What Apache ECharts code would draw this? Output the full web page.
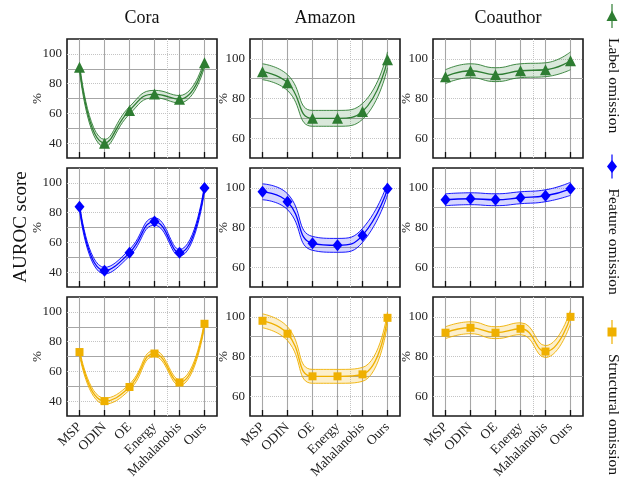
<!DOCTYPE html>
<html><head><meta charset="utf-8">
<script src="https://cdn.jsdelivr.net/npm/echarts@6/dist/echarts.min.js"></script>
<style>html,body{margin:0;padding:0;background:#fff}#c{width:626px;height:487px}</style>
</head><body><div id="c"></div>
<script>
// ---- data ----
const categories = ['MSP', 'ODIN', 'OE', 'Energy', 'Mahalanobis', 'Ours'];
const datasets = ['Cora', 'Amazon', 'Coauthor'];
const settings = ['Label omission', 'Feature omission', 'Structural omission'];

const coraLabel = [91, 40, 62, 73, 69.5, 94];
const coraFeature = [84, 41, 53, 74, 53, 96.5];
const coraStructural = [73, 40, 49.5, 72, 52.5, 92];
const amazonLabel = [93.5, 88, 70, 70, 73.5, 99.5];
const amazonFeature = [98, 93, 72, 71, 76, 99.5];
const amazonStructural = [98, 91.5, 70, 70, 71, 99.5];
const coauthorLabel = [91, 94, 92, 94, 94.5, 99];
const coauthorFeature = [94, 94.5, 94, 95, 96, 99.5];
const coauthorStructural = [92, 94.5, 92, 94, 82.5, 100];

const coraLabelStd = [2.5, 2.5, 2.5, 2.5, 2.5, 2.5];
const coraFeatureStd = [2.2, 2.2, 2.2, 2.5, 2.2, 2.2];
const coraStructuralStd = [2, 2, 2, 2, 2, 2];
const amazonLabelStd = [4, 4, 4, 4, 4, 4];
const amazonFeatureStd = [4, 4, 3.5, 3.5, 3.5, 3];
const amazonStructuralStd = [3.5, 3.5, 3.5, 3.5, 3.5, 3];
const coauthorLabelStd = [3.5, 3.5, 3.5, 3.5, 3.5, 4.5];
const coauthorFeatureStd = [3, 3, 3, 3, 3, 3.3];
const coauthorStructuralStd = [3, 3, 3, 3, 3, 3.5];

const coraTicks = [40, 60, 80, 100];
const otherTicks = [60, 80, 100];

// ---- layout / style ----
const FONT = '"Liberation Serif", "DejaVu Serif", serif';
const means = [
  [coraLabel, amazonLabel, coauthorLabel],
  [coraFeature, amazonFeature, coauthorFeature],
  [coraStructural, amazonStructural, coauthorStructural]
];
const stds = [
  [coraLabelStd, amazonLabelStd, coauthorLabelStd],
  [coraFeatureStd, amazonFeatureStd, coauthorFeatureStd],
  [coraStructuralStd, amazonStructuralStd, coauthorStructuralStd]
];
const colors = ['#2E7D32', '#0000FF', '#EFB000'];
const fills = ['rgba(46,125,50,0.18)', 'rgba(0,0,255,0.16)', 'rgba(239,176,0,0.2)'];
const symbols = ['triangle', 'diamond', 'rect'];
const symbolSizes = [11, [10, 12], 8];
const colLeft = [67, 250, 433];
const rowTop = [39, 168, 297];
const W = 150, H = 119;

const grids = [], xAxes = [], yAxes = [], series = [];
for (let r = 0; r < 3; r++) {
  for (let c = 0; c < 3; c++) {
    const p = r * 3 + c;
    const ticks = c === 0 ? coraTicks : otherTicks;
    const yMin = c === 0 ? 30 : 50, yMax = 110;
    grids.push({left: colLeft[c], top: rowTop[r], width: W, height: H, show: true,
      borderColor: '#1a1a1a', borderWidth: 1.6, outerBoundsMode: 'none'});
    xAxes.push({type: 'category', gridIndex: p, data: categories, boundaryGap: true,
      axisLine: {show: false},
      axisTick: {show: true, inside: true, alignWithLabel: true, length: 6, lineStyle: {color: '#111', width: 1.3}},
      splitLine: {show: true, alignWithLabel: true, lineStyle: {color: '#a6a6a6', width: 1.1}},
      axisLabel: {show: r === 2, rotate: 45, interval: 0, fontFamily: FONT, fontSize: 13.5, color: '#222', margin: 9}
    });
    xAxes.push({type: 'category', gridIndex: p, data: categories, boundaryGap: true, position: 'top',
      axisLine: {show: false}, axisTick: {show: false}, axisLabel: {show: false},
      splitLine: {show: true, showMinLine: false, showMaxLine: false,
        lineStyle: {color: '#c4c4c4', type: 'dotted', width: 1}}
    });
    yAxes.push({type: 'value', gridIndex: p, min: yMin, max: yMax, interval: 10,
      axisLine: {show: false}, axisTick: {show: false},
      splitLine: {show: true, showMinLine: false, showMaxLine: false,
        lineStyle: {type: 'dotted', color: '#c4c4c4', width: 1}},
      axisLabel: {formatter: v => (ticks.indexOf(v) >= 0 ? String(v) : ''), fontFamily: FONT, fontSize: 13, color: '#222', margin: 5},
      name: '%', nameLocation: 'middle', nameRotate: 90, nameGap: c === 0 ? 23 : 20,
      nameMoveOverlap: false,
      nameTextStyle: {fontFamily: FONT, fontSize: 13, color: '#222'}
    });
    yAxes.push({type: 'value', gridIndex: p, min: yMin, max: yMax, interval: 10,
      axisLine: {show: false}, axisTick: {show: false}, axisLabel: {show: false},
      splitLine: {show: true, showMinLine: false, showMaxLine: false,
        lineStyle: {color: ['rgba(0,0,0,0)', '#a6a6a6'], width: 1.1}}
    });
    const m = means[r][c], s = stds[r][c];
    const lower = m.map((v, i) => v - s[i]);
    const width = s.map(v => 2 * v);
    series.push({type: 'line', xAxisIndex: 2 * p, yAxisIndex: 2 * p, data: lower, stack: 'band' + p,
      smooth: true, symbol: 'none', lineStyle: {color: colors[r], width: 0.9}, z: 3, silent: true});
    series.push({type: 'line', xAxisIndex: 2 * p, yAxisIndex: 2 * p, data: width, stack: 'band' + p,
      smooth: true, symbol: 'none', lineStyle: {color: colors[r], width: 0.9},
      areaStyle: {color: fills[r], opacity: 1}, z: 3, silent: true});
    series.push({type: 'line', name: settings[r], xAxisIndex: 2 * p, yAxisIndex: 2 * p, data: m,
      smooth: true, symbol: symbols[r], symbolSize: symbolSizes[r], showSymbol: true,
      itemStyle: {color: colors[r]}, lineStyle: {color: colors[r], width: 1.3}, z: 4, silent: true});
  }
}

const graphics = [];
datasets.forEach((d, c) => {
  graphics.push({type: 'text', x: colLeft[c] + W / 2, y: 18,
    style: {text: d, font: '18px ' + FONT, fill: '#111', textAlign: 'center', textVerticalAlign: 'middle', align: 'center', verticalAlign: 'middle'}});
});
graphics.push({type: 'text', x: 21, y: 227, rotation: Math.PI / 2,
  style: {text: 'AUROC score', font: '19px ' + FONT, fill: '#111', textAlign: 'center', textVerticalAlign: 'middle', align: 'center', verticalAlign: 'middle'}});

// legend (rotated, on the right)
const legY = [16, 166.5, 332];
const legX = 612;
settings.forEach((name, r) => {
  const y = legY[r];
  graphics.push({type: 'line', shape: {x1: legX, y1: y - 12, x2: legX, y2: y + 12}, style: {stroke: colors[r], lineWidth: 1.2}});
  if (r === 0) graphics.push({type: 'polygon', shape: {points: [[legX, y - 5.5], [legX + 5.5, y + 5], [legX - 5.5, y + 5]]}, style: {fill: colors[r]}});
  if (r === 1) graphics.push({type: 'polygon', shape: {points: [[legX, y - 6.5], [legX + 5, y], [legX, y + 6.5], [legX - 5, y]]}, style: {fill: colors[r]}});
  if (r === 2) graphics.push({type: 'rect', shape: {x: legX - 4.5, y: y - 4.5, width: 9, height: 9}, style: {fill: colors[r]}});
  graphics.push({type: 'text', x: legX + 1, y: y + 22, rotation: -Math.PI / 2,
    style: {text: name, font: '15.5px ' + FONT, fill: '#111', textAlign: 'left', textVerticalAlign: 'middle', align: 'left', verticalAlign: 'middle'}});
});

const chart = echarts.init(document.getElementById('c'), null, {renderer: 'canvas'});
chart.setOption({
  animation: false,
  backgroundColor: '#fff',
  grid: grids, xAxis: xAxes, yAxis: yAxes, series: series,
  graphic: graphics
});
</script></body></html>
